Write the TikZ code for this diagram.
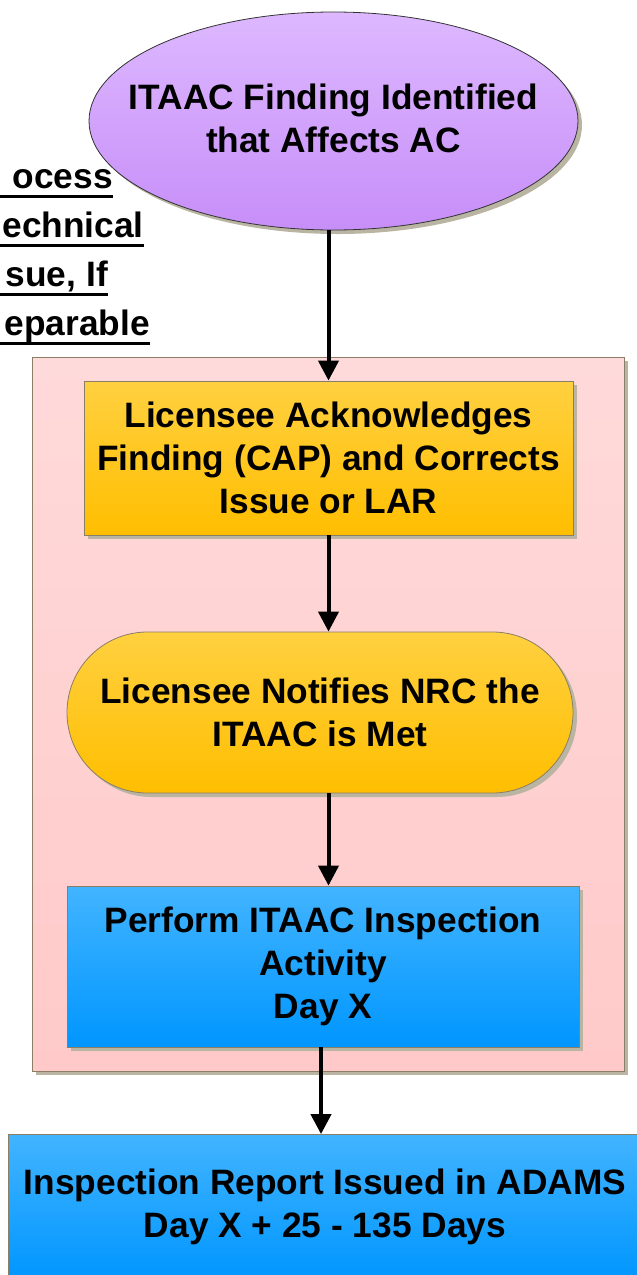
\documentclass[tikz,border=0pt]{standalone}
\usepackage{fontspec}
\setmainfont{Liberation Sans}
\usetikzlibrary{shapes.geometric,shapes.misc,shadows,arrows.meta}
\definecolor{purpT}{HTML}{DDB8FF}
\definecolor{purpB}{HTML}{C78EF8}
\definecolor{orT}{HTML}{FFD040}
\definecolor{orB}{HTML}{FFBE00}
\definecolor{blT}{HTML}{42B4FF}
\definecolor{blB}{HTML}{0096FF}
\definecolor{pkT}{HTML}{FFDADA}
\definecolor{pkB}{HTML}{FFC9C9}
\definecolor{shd}{HTML}{B9B5A2}
\definecolor{edge}{HTML}{8A7E66}
\tikzset{
  boxtext/.style={font=\fontsize{35.3}{43}\selectfont\bfseries, align=center, text=black},
  shbox/.style={draw=edge, line width=0.8pt, inner sep=0pt,
     drop shadow={shadow xshift=4pt, shadow yshift=-4pt, fill=shd, opacity=1}},
  purplebox/.style={shbox, ellipse, draw=black!80, top color=purpT, bottom color=purpB},
  orangebox/.style={shbox, boxtext, top color=orT, bottom color=orB},
  bluebox/.style={shbox, boxtext, top color=blT, bottom color=blB},
  flow/.style={line width=4pt, -{Triangle[width=20pt,length=20pt]}},
  lefttext/.style={font=\fontsize{35.3}{43}\selectfont\bfseries, inner sep=0pt},
  uline/.style={line width=3pt}
}
\begin{document}
\begin{tikzpicture}[x=1pt,y=-1pt]
\useasboundingbox (0,0) rectangle (637,1275);
\clip (0,0) rectangle (637,1275);
% container
\node[shbox, rectangle, top color=pkT, bottom color=pkB, minimum width=592pt, minimum height=714pt] (cont) at (328,714) {};
% nodes
\node[purplebox, minimum width=489pt, minimum height=218pt] (n1) at (333.5,121) {};
\node[boxtext, inner sep=0pt] (n1t) at (333.5,118) {ITAAC Finding Identified\\that Affects AC};
\node[orangebox, rectangle, minimum width=489pt, minimum height=154pt] (n2) at (328.5,458) {Licensee Acknowledges\\Finding (CAP) and Corrects\\Issue or LAR};
\node[orangebox, rounded rectangle, rounded rectangle arc length=180, minimum width=506pt, minimum height=161pt] (n3) at (320,712.5) {Licensee Notifies NRC the\\ITAAC is Met};
\node[bluebox, rectangle, minimum width=512pt, minimum height=161pt] (n4) at (323,966.5) {Perform ITAAC Inspection\\Activity\\Day X};
\node[bluebox, rectangle, minimum width=634pt, minimum height=145pt] (n5) at (325,1207) {Inspection Report Issued in ADAMS\\Day X + 25 - 135 Days};
% left partial text
\node[lefttext, anchor=base east] (t1) at (113,188) {ocess};
\node[lefttext, anchor=base east] (t2) at (144,237) {echnical};
\node[lefttext, anchor=base east] (t3) at (108,286) {sue, If};
\node[lefttext, anchor=base east] (t4) at (150,335) {eparable};
\draw[uline] (0,196) -- (t1.base east |- 0,196);
\draw[uline] (0,245) -- (t2.base east |- 0,245);
\draw[uline] (0,294) -- (t3.base east |- 0,294);
\draw[uline] (0,343) -- (t4.base east |- 0,343);
% connectors
\coordinate (c4) at (321,1047);
\draw[flow] (n1.south -| n2.north) -- (n2.north);
\draw[flow] (n2.south) -- (n2.south |- n3.north);
\draw[flow] (n2.south |- n3.south) -- (n2.south |- n4.north);
\draw[flow] (c4) -- (c4 |- n5.north);
\end{tikzpicture}
\end{document}
